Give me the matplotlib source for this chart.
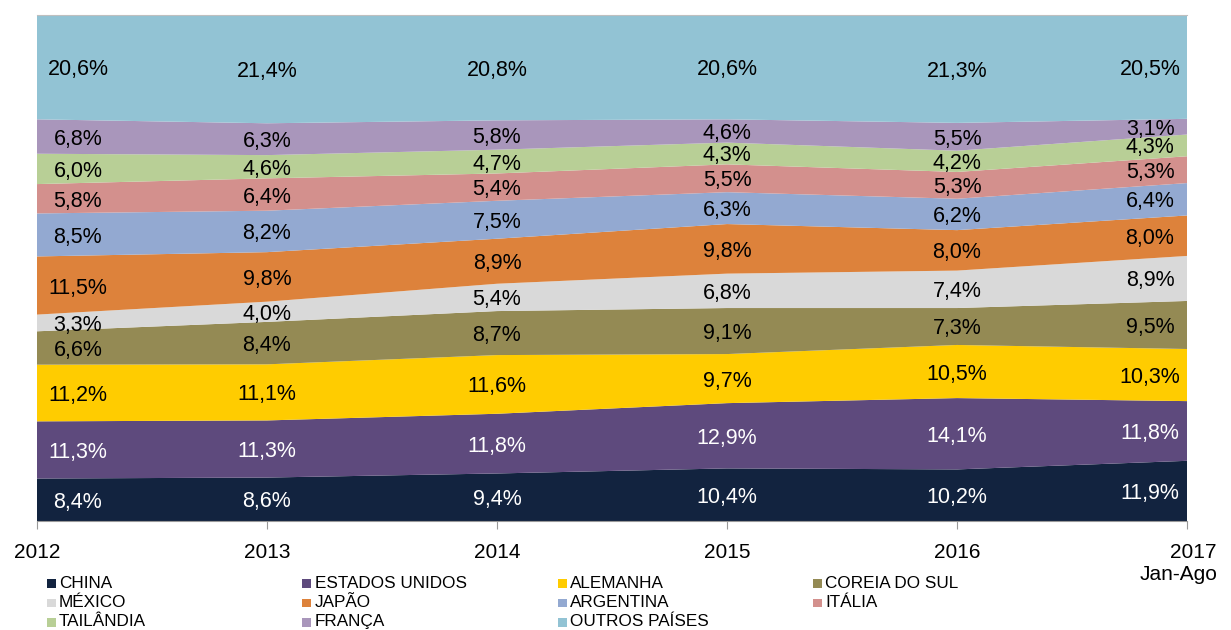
import matplotlib.pyplot as plt
import matplotlib.transforms as mtransforms
import numpy as np
from matplotlib.patches import Rectangle

plt.rcParams['font.family'] = ['Liberation Sans', 'DejaVu Sans']

anos = ["2012", "2013", "2014", "2015", "2016", "2017\nJan-Ago"]

paises = ["CHINA", "ESTADOS UNIDOS", "ALEMANHA", "COREIA DO SUL", "MÉXICO", "JAPÃO",
          "ARGENTINA", "ITÁLIA", "TAILÂNDIA", "FRANÇA", "OUTROS PAÍSES"]

china = [8.4, 8.6, 9.4, 10.4, 10.2, 11.9]
estados_unidos = [11.3, 11.3, 11.8, 12.9, 14.1, 11.8]
alemanha = [11.2, 11.1, 11.6, 9.7, 10.5, 10.3]
coreia = [6.6, 8.4, 8.7, 9.1, 7.3, 9.5]
mexico = [3.3, 4.0, 5.4, 6.8, 7.4, 8.9]
japao = [11.5, 9.8, 8.9, 9.8, 8.0, 8.0]
argentina = [8.5, 8.2, 7.5, 6.3, 6.2, 6.4]
italia = [5.8, 6.4, 5.4, 5.5, 5.3, 5.3]
tailandia = [6.0, 4.6, 4.7, 4.3, 4.2, 4.3]
franca = [6.8, 6.3, 5.8, 4.6, 5.5, 3.1]
outros = [20.6, 21.4, 20.8, 20.6, 21.3, 20.5]

cores = ["#12233F", "#5E4A7D", "#FFCC00", "#948A54", "#D9D9D9", "#DD823B",
         "#93A9D1", "#D3908D", "#B8CF96", "#A996BB", "#92C3D4"]
cor_texto = ["white", "white"] + ["black"] * 9

series = np.array([china, estados_unidos, alemanha, coreia, mexico, japao,
                   argentina, italia, tailandia, franca, outros])
# empilhamento 100%
norm_series = series / series.sum(axis=0) * 100
x = np.arange(len(anos))

fig = plt.figure(figsize=(12.31, 6.3), dpi=100)
ax = fig.add_axes([0.030, 0.173, 0.9343, 0.803])
ax.stackplot(x, norm_series, colors=cores, linewidth=0)
ax.set_xlim(0, len(anos) - 1)
ax.set_ylim(0, 100)

base = np.zeros(len(anos))
for i in range(len(paises)):
    meio = base + norm_series[i] / 2
    for j in range(len(anos)):
        dx = 0
        if j == 0:
            dx = 41
        elif j == len(anos) - 1:
            dx = -37
        texto = f"{series[i, j]:.1f}%".replace(".", ",")
        ax.annotate(texto, (x[j], meio[j]), xytext=(dx, -2.5), textcoords="offset pixels",
                    ha="center", va="center", fontsize=15.5, color=cor_texto[i])
    base = base + norm_series[i]

for lado in ["left", "right"]:
    ax.spines[lado].set_visible(False)
ax.spines["top"].set_color("#BFBFBF")
ax.spines["bottom"].set_color("#999999")
ax.set_yticks([])
ax.set_xticks(x)
ax.set_xticklabels(anos, fontsize=15, multialignment="right")
ax.tick_params(axis="x", length=6, color="#999999", pad=10)
ult = ax.get_xticklabels()[-1]
ult.set_transform(ult.get_transform() + mtransforms.ScaledTranslation(-0.09, 0, fig.dpi_scale_trans))

# legenda em 4 colunas, preenchida por linhas
for k, nome in enumerate(paises):
    lin, col = divmod(k, 4)
    lx = 0.0382 + col * 0.2075
    ly = 0.074 - lin * 0.0305
    fig.patches.append(Rectangle((lx, ly - 0.0075), 0.0072, 0.014, transform=fig.transFigure,
                                 facecolor=cores[k], edgecolor="none"))
    fig.text(lx + 0.0098, ly, nome, fontsize=12.3, va="center", ha="left")

fig.savefig("out.png", dpi=100)
